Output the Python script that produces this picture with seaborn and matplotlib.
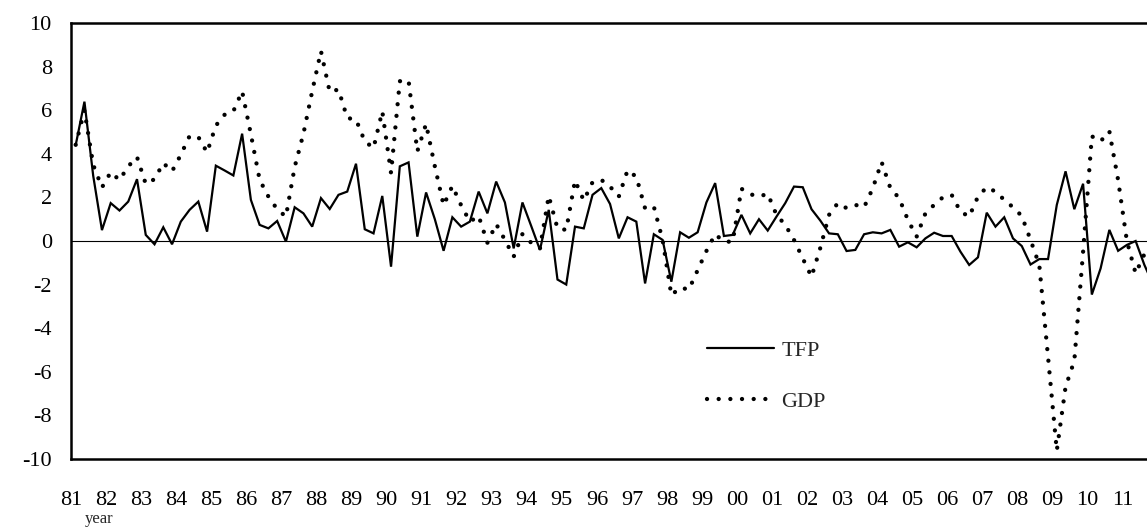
import numpy as np
import pandas as pd
import matplotlib
matplotlib.use("Agg")
import matplotlib.pyplot as plt
from matplotlib.lines import Line2D
import seaborn as sns

# ---- data (quarterly, 1981Q1 ... 2011Q4) ----
year_labels = ["81", "82", "83", "84", "85", "86", "87", "88", "89", "90",
               "91", "92", "93", "94", "95", "96", "97", "98", "99", "00",
               "01", "02", "03", "04", "05", "06", "07", "08", "09", "10", "11"]

tfp = [4.4, 6.4, 3.0, 0.5, 1.74, 1.40, 1.81, 2.84, 0.28, -0.15, 0.63, -0.15,
       0.89, 1.43, 1.81, 0.43, 3.46, 3.24, 3.01, 4.93, 1.89, 0.74, 0.58, 0.92,
       -0.03, 1.55, 1.27, 0.66, 1.97, 1.47, 2.12, 2.27, 3.55, 0.54, 0.35, 2.07,
       -1.18, 3.43, 3.61, 0.2, 2.23, 1.0, -0.45, 1.09, 0.66, 0.89, 2.27, 1.27,
       2.73, 1.77, -0.34, 1.77, 0.69, -0.41, 1.43, -1.77, -2.0, 0.66, 0.58, 2.12,
       2.43, 1.7, 0.12, 1.09, 0.89, -1.95, 0.31, 0.05, -1.87, 0.4, 0.15, 0.4,
       1.77, 2.66, 0.23, 0.28, 1.2, 0.35, 1.0, 0.48, 1.12, 1.74, 2.5, 2.47,
       1.46, 0.94, 0.35, 0.31, -0.46, -0.41, 0.31, 0.4, 0.35, 0.51, -0.26, -0.06,
       -0.29, 0.12, 0.38, 0.23, 0.23, -0.49, -1.1, -0.75, 1.3, 0.66, 1.09, 0.12,
       -0.23, -1.08, -0.83, -0.83, 1.66, 3.2, 1.46, 2.63, -2.46, -1.26, 0.51, -0.45,
       -0.18, 0.0, -1.1, -2.0]

gdp = [4.42, 6.0, 3.5, 2.46, 3.16, 2.8, 3.43, 3.86, 2.62, 2.84, 3.58, 3.2,
       3.96, 4.82, 4.78, 4.07, 5.3, 5.8, 5.96, 6.88, 4.9, 2.81, 2.04, 1.46,
       1.12, 3.4, 4.93, 6.88, 8.72, 6.85, 6.96, 5.65, 5.58, 4.58, 4.27, 5.96,
       3.12, 7.34, 7.37, 4.12, 5.38, 3.43, 1.64, 2.53, 1.64, 0.89, 1.15, -0.08,
       0.78, 0.05, -0.72, 0.32, -0.08, -0.34, 2.07, 0.58, 0.51, 2.78, 1.86, 2.7,
       2.81, 2.5, 2.04, 3.25, 2.95, 1.5, 1.58, 0.05, -2.49, -2.14, -2.23, -1.34,
       -0.46, 0.31, -0.03, -0.03, 2.4, 2.15, 2.04, 2.17, 1.2, 0.74, 0.05, -0.8,
       -1.64, -0.32, 1.2, 1.74, 1.51, 1.66, 1.55, 2.43, 3.63, 2.43, 1.97, 0.97,
       0.2, 1.27, 1.66, 2.01, 2.12, 1.35, 1.12, 2.04, 2.47, 2.27, 1.89, 1.55,
       1.15, 0.05, -1.1, -5.33, -9.63, -6.7, -5.5, -0.5, 4.81, 4.58, 5.04, 2.8,
       0.0, -1.49, -0.6, -0.2]

y_ticks = [-10, -8, -6, -4, -2, 0, 2, 4, 6, 8, 10]

# ---- build table ----
quarter_pos = np.arange(len(tfp)) + 0.5          # category centres
df = pd.DataFrame({"q": quarter_pos, "TFP": tfp, "GDP": gdp})

sns.set_style("white")
plt.rcParams["font.family"] = ["Liberation Serif", "DejaVu Serif"]
plt.rcParams["axes.unicode_minus"] = False

W, H = 1147, 531
fig = plt.figure(figsize=(W / 100, H / 100), dpi=100)
ax = fig.add_axes([71.3 / W, 1 - 458.7 / H, 1 - 71.3 / W, (458.7 - 23.3) / H])

dot_style = (0, (0.01, 2.7))
sns.lineplot(data=df, x="q", y="TFP", ax=ax, color="black", linewidth=1.6,
             solid_joinstyle="miter")
sns.lineplot(data=df, x="q", y="GDP", ax=ax, color="black", linewidth=3.1,
             linestyle=dot_style, dash_capstyle="round")
ax.axhline(0, color="black", linewidth=0.8, zorder=0)

ax.set_xlim(0, (W - 71.3) / 8.76)
ax.set_ylim(-10, 10)
ax.set_yticks(y_ticks)
ax.set_yticklabels([str(v) for v in y_ticks])
year_pos = np.arange(len(year_labels)) * 4
ax.set_xticks(year_pos)
ax.set_xticklabels(year_labels)
ax.tick_params(axis="x", direction="in", length=7, width=1.2, pad=23,
               labelsize=16, colors="black")
ax.tick_params(axis="y", direction="in", length=7, width=1.2, pad=14,
               labelsize=16, colors="black")
ax.set_xlabel("")
ax.set_ylabel("")

for s in ["top", "left", "bottom"]:
    ax.spines[s].set_visible(True)
    ax.spines[s].set_color("black")
    ax.spines[s].set_linewidth(1.8)
ax.spines["right"].set_visible(False)

fig.text(99.5 / W, 1 - 519 / H, "year", ha="center", va="center", fontsize=12)

handles = [Line2D([], [], color="black", linewidth=1.6),
           Line2D([], [], color="black", linewidth=3.1, linestyle=dot_style,
                  dash_capstyle="round")]
fig.legend(handles, ["TFP", "GDP"], loc="center left",
           bbox_to_anchor=(707 / W, 1 - 376 / H), frameon=False, fontsize=16,
           handlelength=3.0, handletextpad=0.35, labelspacing=1.35,
           borderpad=0, borderaxespad=0)

fig.savefig("out.png", dpi=100)
